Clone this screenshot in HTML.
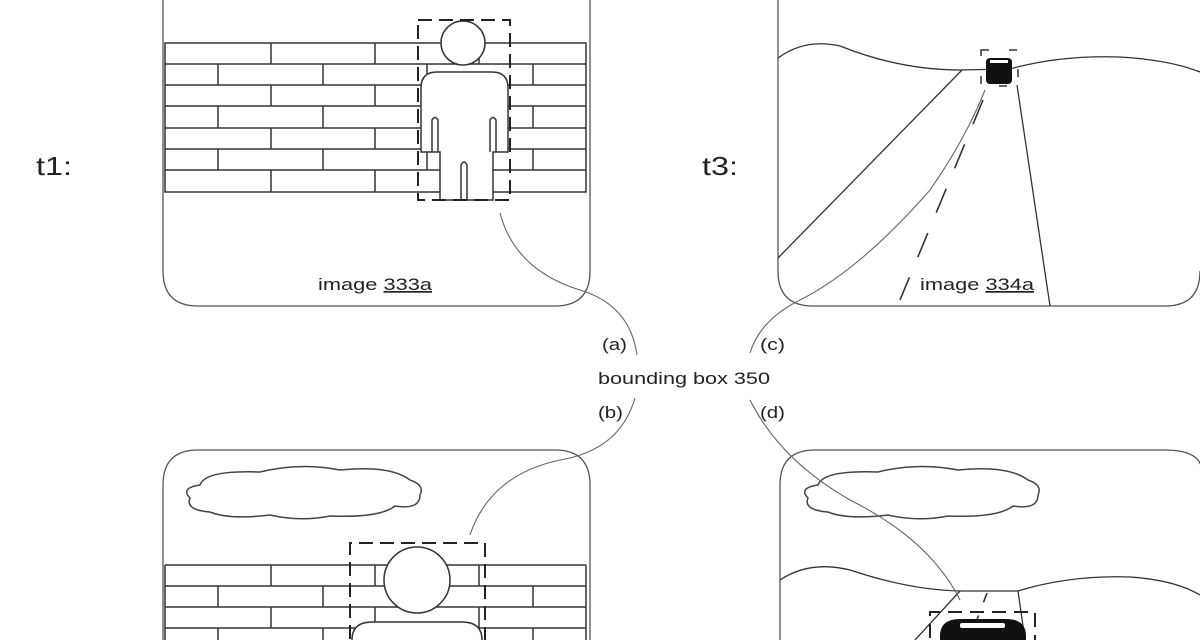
<!DOCTYPE html>
<html><head><meta charset="utf-8"><style>
html,body{margin:0;padding:0;background:#fff;width:1200px;height:640px;overflow:hidden}
text{font-family:"Liberation Sans",sans-serif;fill:#222}
</style></head><body>
<svg width="1200" height="640" viewBox="0 0 1200 640" xmlns="http://www.w3.org/2000/svg">
<g fill="none" stroke="#555" stroke-width="1.3">
<path d="M163,-10 V271 Q163,306 198,306 H555 Q590,306 590,271 V-10"/>
<path d="M778,-10 V271 Q778,306 813,306 H1165 Q1200,306 1200,271"/>
<path d="M163,660 V485 Q163,450 198,450 H555 Q590,450 590,485 V660"/>
<path d="M780,660 V485 Q780,450 815,450 H1165 Q1200,450 1202,470"/>
</g>
<g stroke="#333" stroke-width="1.5" fill="none">
<rect x="165" y="43" width="421" height="149"/>
<line x1="165" y1="64" x2="586" y2="64"/><line x1="165" y1="85" x2="586" y2="85"/>
<line x1="165" y1="106" x2="586" y2="106"/><line x1="165" y1="128" x2="586" y2="128"/>
<line x1="165" y1="149" x2="586" y2="149"/><line x1="165" y1="170" x2="586" y2="170"/>
<path d="M271,43V64M375,43V64M479,43V64M218,64V85M323,64V85M427,64V85M533,64V85M271,85V106M375,85V106M479,85V106M218,106V128M323,106V128M427,106V128M533,106V128M271,128V149M375,128V149M479,128V149M218,149V170M323,149V170M427,149V170M533,149V170M271,170V192M375,170V192M479,170V192"/>
</g>
<g stroke="#333" stroke-width="1.5" fill="#fff">
<path d="M440,200 V152 H421 V88 Q421,72 437,72 H492 Q508,72 508,88 V152 H493 V200 Z"/>
<circle cx="463" cy="43" r="22"/>
<path d="M432,152 V120 Q435,115 438,120 V152 M490,152 V120 Q493,115 496,120 V152 M461,200 V165 Q464,159 467,165 V200" fill="none"/>
</g>
<rect x="418" y="20" width="92" height="180" fill="none" stroke="#222" stroke-width="2" stroke-dasharray="14,7"/>
<path d="M190,498 Q180,488 200,485 Q205,470 260,472 Q300,462 340,470 Q390,465 410,480 Q425,485 420,495 Q420,510 395,506 Q380,518 330,516 Q300,522 270,515 Q230,520 210,512 Q185,510 190,498 Z" fill="none" stroke="#444" stroke-width="1.5"/>
<g stroke="#333" stroke-width="1.5" fill="none">
<path d="M165,565 H586 M165,586 H586 M165,607 H586 M165,628 H586 M165,565 V645 M586,565 V645"/>
<path d="M271,565V586M375,565V586M479,565V586M218,586V607M323,586V607M427,586V607M533,586V607M271,607V628M375,607V628M479,607V628M218,628V645M323,628V645M427,628V645M533,628V645"/>
</g>
<g stroke="#333" stroke-width="1.5" fill="#fff">
<path d="M352,660 V640 Q352,622 372,622 H462 Q482,622 482,640 V660 Z"/>
<circle cx="417" cy="580" r="33"/>
</g>
<path d="M350,660 V543 H485 V660" fill="none" stroke="#222" stroke-width="2" stroke-dasharray="14,7"/>
<g stroke="#333" stroke-width="1.3" fill="none">
<path d="M778,58 Q805,38 840,46 Q900,70 960,70 L1010,69 Q1060,55 1120,57 Q1170,60 1200,72"/>
<path d="M962,70 L778,258"/>
<path d="M1017,85 L1050,306"/>
<path d="M983,100 L900,300" stroke-dasharray="26,22" stroke-width="1.6"/>
</g>
<rect x="986" y="58" width="26" height="26" rx="4" fill="#111"/>
<rect x="990" y="60" width="18" height="3" fill="#fff"/>
<rect x="981" y="50" width="37" height="36" fill="none" stroke="#333" stroke-width="1.5" stroke-dasharray="8,20"/>
<path d="M808,498 Q798,488 818,485 Q823,470 878,472 Q918,462 958,470 Q1008,465 1028,480 Q1043,485 1038,495 Q1038,510 1013,506 Q998,518 948,516 Q918,522 888,515 Q848,520 828,512 Q803,510 808,498 Z" fill="none" stroke="#444" stroke-width="1.5"/>
<g stroke="#333" stroke-width="1.3" fill="none">
<path d="M780,580 Q810,560 850,570 Q910,590 960,591 L1018,591 Q1070,575 1130,577 Q1175,580 1200,595"/>
<path d="M960,591 L915,640"/><path d="M1018,591 L1025,640"/>
<path d="M987,593 L975,625" stroke-dasharray="10,14" stroke-width="1.6"/>
</g>
<path d="M940,645 V636 Q940,619 960,619 H1006 Q1026,619 1026,636 V645 Z" fill="#111"/>
<rect x="960" y="623" width="45" height="5" rx="2" fill="#fff"/>
<path d="M930,660 V612 H1035 V660" fill="none" stroke="#222" stroke-width="2" stroke-dasharray="14,8"/>
<g fill="none" stroke="#666" stroke-width="1.1">
<path d="M500,213 Q515,270 580,290 Q630,305 637,355"/>
<path d="M635,398 Q620,450 560,460 Q490,475 470,535"/>
<path d="M750,353 Q760,320 800,300 Q860,270 930,190 Q965,140 985,90"/>
<path d="M750,400 Q780,460 850,500 Q930,540 960,600"/>
</g>
<text x="36" y="175" font-size="26" textLength="36" lengthAdjust="spacingAndGlyphs">t1:</text>
<text x="702" y="175" font-size="26" textLength="36" lengthAdjust="spacingAndGlyphs">t3:</text>
<text x="318" y="290" font-size="17" textLength="114" lengthAdjust="spacingAndGlyphs">image <tspan text-decoration="underline">333a</tspan></text>
<text x="920" y="290" font-size="17" textLength="114" lengthAdjust="spacingAndGlyphs">image <tspan text-decoration="underline">334a</tspan></text>
<text x="602" y="350" font-size="17" textLength="25" lengthAdjust="spacingAndGlyphs">(a)</text>
<text x="760" y="350" font-size="17" textLength="25" lengthAdjust="spacingAndGlyphs">(c)</text>
<text x="598" y="384" font-size="17" textLength="172" lengthAdjust="spacingAndGlyphs">bounding box 350</text>
<text x="598" y="418" font-size="17" textLength="25" lengthAdjust="spacingAndGlyphs">(b)</text>
<text x="760" y="418" font-size="17" textLength="25" lengthAdjust="spacingAndGlyphs">(d)</text>
</svg>
</body></html>
